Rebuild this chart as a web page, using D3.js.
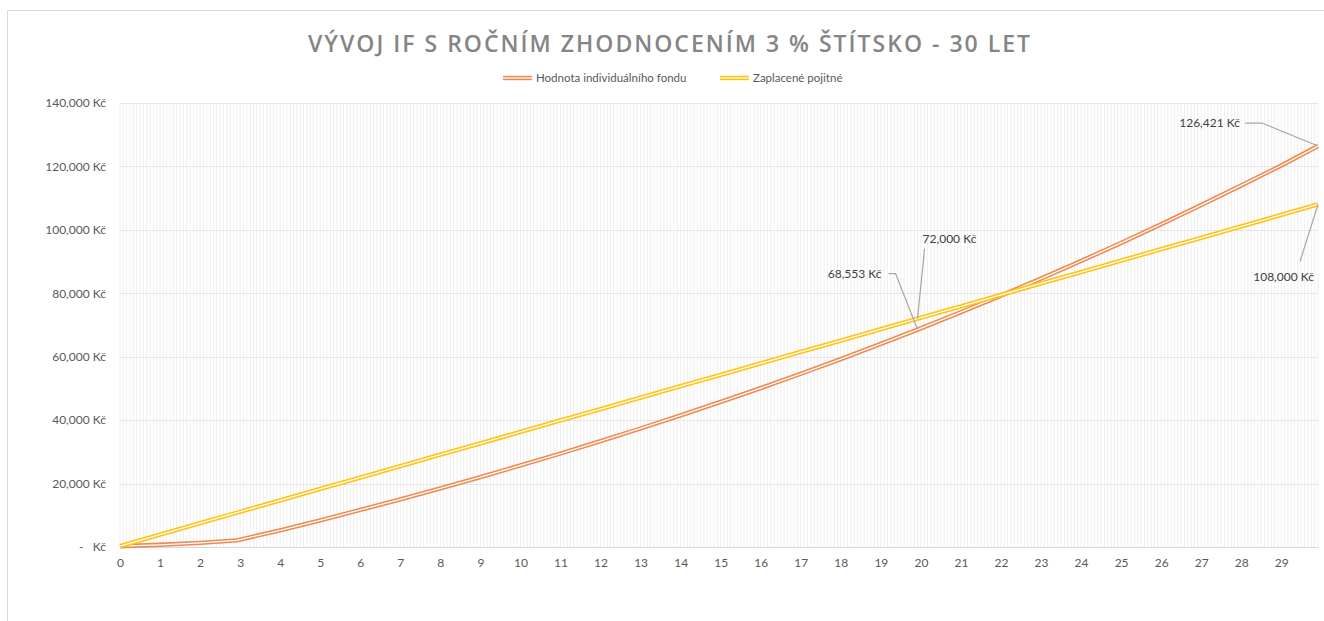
<!DOCTYPE html>
<html>
<head>
<meta charset="utf-8">
<script src="https://cdn.jsdelivr.net/npm/d3@7"></script>
<style>
  body { margin: 0; background: #fff; }
  text { font-family: Lato, "Open Sans", sans-serif; }
</style>
</head>
<body>
<script>
// months since start (x axis is a monthly category axis, labelled by year)
var months = [0, 12, 24, 35, 48, 60, 72, 84, 96, 108, 120, 132, 144, 156, 168, 180,
              192, 204, 216, 228, 239, 252, 264, 276, 288, 300, 312, 324, 336, 348, 359];

// Hodnota individuálního fondu
var fundValues = [250, 700, 1300, 2100, 5270, 8430, 11680, 15040, 18490, 22050, 25710,
                  29480, 33370, 37370, 41500, 45740, 50120, 54620, 59260, 64040, 68553,
                  74040, 79260, 84640, 90180, 95890, 101770, 107820, 114000, 120300, 126421];

// Zaplacené pojistné
var paidValues = [300, 3900, 7500, 10800, 14700, 18300, 21900, 25500, 29100, 32700, 36300,
                  39900, 43500, 47100, 50700, 54300, 57900, 61500, 65100, 68700, 72000,
                  75900, 79500, 83100, 86700, 90300, 93900, 97500, 101100, 104700, 108000];

var seriesNames = ["Hodnota individuálního fondu", "Zaplacené pojitné"];
var yearLabels = d3.range(0, 30);
var yTicks = [0, 20000, 40000, 60000, 80000, 100000, 120000, 140000];

// labelled points: [series index, month]
var labelPoints = [[0, 239], [1, 239], [0, 359], [1, 359]];

var colors = ["#ee8a4f", "#ffc20e"];
var W = 1324, H = 621;
var margin = {top: 103, right: 6, bottom: 74, left: 120};

var svg = d3.select("body").append("svg")
  .attr("width", W).attr("height", H);

// chart border (partially visible)
svg.append("path")
  .attr("d", "M7.5," + H + "V10.5H" + W)
  .attr("fill", "none").attr("stroke", "#d9d9d9");

var x = d3.scaleLinear().domain([0, 359]).range([margin.left, W - margin.right]);
var y = d3.scaleLinear().domain([0, 140000]).range([H - margin.bottom, margin.top]);

// title
svg.append("text")
  .attr("x", 669).attr("y", 52)
  .attr("text-anchor", "middle")
  .attr("textLength", 722).attr("lengthAdjust", "spacing")
  .style("font-family", "'Open Sans', sans-serif")
  .style("font-weight", 600).style("font-size", "23px")
  .style("fill", "#858585")
  .text("VÝVOJ IF S ROČNÍM ZHODNOCENÍM 3 % ŠTÍTSKO - 30 LET");

// monthly vertical gridlines
svg.append("g").selectAll("line")
  .data(d3.range(0, 360))
  .enter().append("line")
  .attr("x1", function(d){ return x(d); })
  .attr("x2", function(d){ return x(d); })
  .attr("y1", y(140000)).attr("y2", y(0))
  .attr("stroke", "#efefef").attr("stroke-width", 1);

// horizontal gridlines
svg.append("g").selectAll("line")
  .data(yTicks)
  .enter().append("line")
  .attr("x1", x(0)).attr("x2", x(359))
  .attr("y1", function(d){ return Math.round(y(d)) + 0.5; })
  .attr("y2", function(d){ return Math.round(y(d)) + 0.5; })
  .attr("stroke", function(d){ return d === 0 ? "#d9d9d9" : "#e6e6e6"; });

// y axis labels
var yAxis = d3.axisLeft(y)
  .tickValues(yTicks)
  .tickSize(0).tickPadding(14)
  .tickFormat(function(d){ return d === 0 ? "-   Kč" : d3.format(",")(d) + " Kč"; });
var gy = svg.append("g")
  .attr("transform", "translate(" + margin.left + ",0)")
  .call(yAxis);
gy.select(".domain").remove();
gy.selectAll("text").style("font-size", "12px").style("fill", "#595959")
  .style("font-family", "Lato, sans-serif").attr("xml:space", "preserve");

// x axis labels
var xAxis = d3.axisBottom(x)
  .tickValues(yearLabels.map(function(d){ return d * 12; }))
  .tickSize(0).tickPadding(11)
  .tickFormat(function(d){ return d / 12; });
var gx = svg.append("g")
  .attr("transform", "translate(0," + y(0) + ")")
  .call(xAxis);
gx.select(".domain").remove();
gx.selectAll("text").style("font-size", "12px").style("fill", "#595959")
  .style("font-family", "Lato, sans-serif");

// series lines (double-line style)
var line = d3.line()
  .x(function(d, i){ return x(months[i]); })
  .y(function(d){ return y(d); });

[fundValues, paidValues].forEach(function(vals, i){
  svg.append("path").datum(vals)
    .attr("d", line).attr("fill", "none")
    .attr("stroke", colors[i]).attr("stroke-width", 4.4)
    .attr("stroke-linejoin", "round");
  svg.append("path").datum(vals)
    .attr("d", line).attr("fill", "none")
    .attr("stroke", "#fff").attr("stroke-width", 1.3)
    .attr("stroke-linejoin", "round");
});

// data labels with leader lines
var labelOffsets = [
  {tx: -36, ty: -56, anchor: "end", leader: [[-29, -56], [-22, -56], [0, 0]]},
  {tx: 5, ty: -80, anchor: "start", leader: [[7, -70], [0, 0]]},
  {tx: -78, ty: -23, anchor: "end", leader: [[-73, -23], [-56, -23], [0, 0]]},
  {tx: -4, ty: 72, anchor: "end", leader: [[-18, 57], [0, 0]]}
];
labelPoints.forEach(function(p, i){
  var vals = p[0] === 0 ? fundValues : paidValues;
  var v = vals[months.indexOf(p[1])];
  var px = x(p[1]), py = y(v), o = labelOffsets[i];
  svg.append("path")
    .attr("d", d3.line()(o.leader.map(function(q){ return [px + q[0], py + q[1]]; })))
    .attr("fill", "none").attr("stroke", "#a6a6a6").attr("stroke-width", 1.2);
  svg.append("text")
    .attr("x", px + o.tx).attr("y", py + o.ty)
    .attr("dy", "0.35em")
    .attr("text-anchor", o.anchor)
    .style("font-size", "12px").style("fill", "#404040")
    .text(d3.format(",")(v) + " Kč");
});

// legend
var legendX = [503, 720];
seriesNames.forEach(function(name, i){
  var g = svg.append("g").attr("transform", "translate(" + legendX[i] + ",78)");
  g.append("line").attr("x1", 0).attr("x2", 29).attr("y1", 0).attr("y2", 0)
    .attr("stroke", colors[i]).attr("stroke-width", 4.4);
  g.append("line").attr("x1", 0).attr("x2", 29).attr("y1", 0).attr("y2", 0)
    .attr("stroke", "#fff").attr("stroke-width", 1.3);
  g.append("text").attr("x", 33).attr("y", 0).attr("dy", "0.35em")
    .style("font-size", "11.5px").style("fill", "#595959")
    .text(name);
});
</script>
</body>
</html>
